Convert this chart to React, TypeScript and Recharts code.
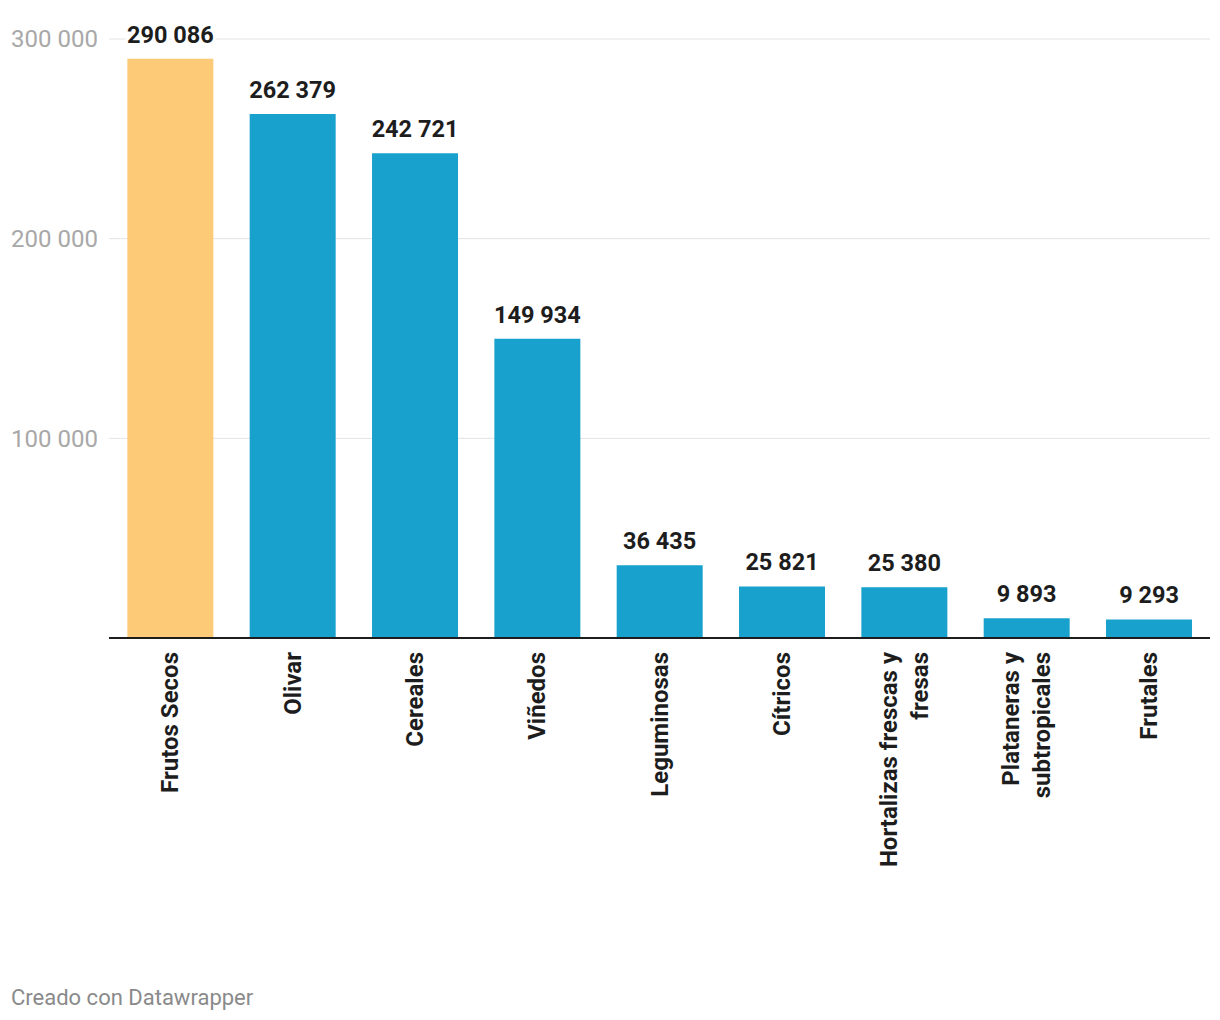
import React from 'react';
import { BarChart, Bar, XAxis, YAxis, CartesianGrid, Cell, LabelList } from 'recharts';

const categories = [
  'Frutos Secos',
  'Olivar',
  'Cereales',
  'Viñedos',
  'Leguminosas',
  'Cítricos',
  'Hortalizas frescas y\nfresas',
  'Plataneras y\nsubtropicales',
  'Frutales',
];
const values = [290086, 262379, 242721, 149934, 36435, 25821, 25380, 9893, 9293];
const highlighted = ['Frutos Secos'];
const yTicks = [100000, 200000, 300000];

const BLUE = '#19a1cd';
const ORANGE = '#fdca78';
const FONT = 'Roboto, sans-serif';

const data = categories.map((name, i) => ({ name, value: values[i] }));

const fmt = (n: number) => String(n).replace(/\B(?=(\d{3})+(?!\d))/g, ' ');

function YTick(props: any) {
  const { y, payload } = props;
  return (
    <text x={11} y={y} dy="0.35em" fill="#a8a8a8" fontSize={24} fontFamily={FONT} textAnchor="start">
      {fmt(payload.value)}
    </text>
  );
}

function XTick(props: any) {
  const { x, y, payload } = props;
  const lines = String(payload.value).split('\n');
  const top = y + 6;
  const lh = 31;
  return (
    <text
      x={x}
      y={top}
      transform={`rotate(-90, ${x}, ${top})`}
      textAnchor="end"
      fill="#1d1d1d"
      fontSize={24}
      fontWeight={700}
      fontFamily={FONT}
    >
      {lines.map((l, i) => (
        <tspan key={i} x={x} dy={i === 0 ? 8 - ((lines.length - 1) * lh) / 2 : lh}>
          {l}
        </tspan>
      ))}
    </text>
  );
}

function ValueLabel(props: any) {
  const { x, y, width, value } = props;
  return (
    <text
      x={x + width / 2}
      y={y - 16}
      textAnchor="middle"
      fill="#1d1d1d"
      fontSize={23.5}
      fontWeight={700}
      fontFamily={FONT}
      stroke="#fff"
      strokeWidth={6}
      paintOrder="stroke"
    >
      {fmt(value)}
    </text>
  );
}

export default function App() {
  return (
    <div style={{ position: 'absolute', left: 0, top: 0, width: 1220, height: 1020, background: '#fff' }}>
      <BarChart
        width={1220}
        height={960}
        data={data}
        margin={{ top: 39, right: 10, left: 0, bottom: 0 }}
        barCategoryGap="15%"
      >
        <CartesianGrid vertical={false} stroke="#e3e3e3" strokeWidth={1} />
        <YAxis
          width={109}
          domain={[0, 300000]}
          ticks={yTicks}
          axisLine={false}
          tickLine={false}
          tick={<YTick />}
        />
        <XAxis
          dataKey="name"
          height={322}
          interval={0}
          axisLine={{ stroke: '#1d1d1d', strokeWidth: 2 }}
          tickLine={false}
          tick={<XTick />}
        />
        <Bar dataKey="value" isAnimationActive={false}>
          {data.map((d) => (
            <Cell key={d.name} fill={highlighted.includes(d.name) ? ORANGE : BLUE} />
          ))}
          <LabelList dataKey="value" content={<ValueLabel />} />
        </Bar>
      </BarChart>
      <div
        style={{
          position: 'absolute',
          left: 11,
          top: 985,
          fontFamily: FONT,
          fontSize: 22,
          color: '#8a8a8a',
        }}
      >
        Creado con Datawrapper
      </div>
    </div>
  );
}
